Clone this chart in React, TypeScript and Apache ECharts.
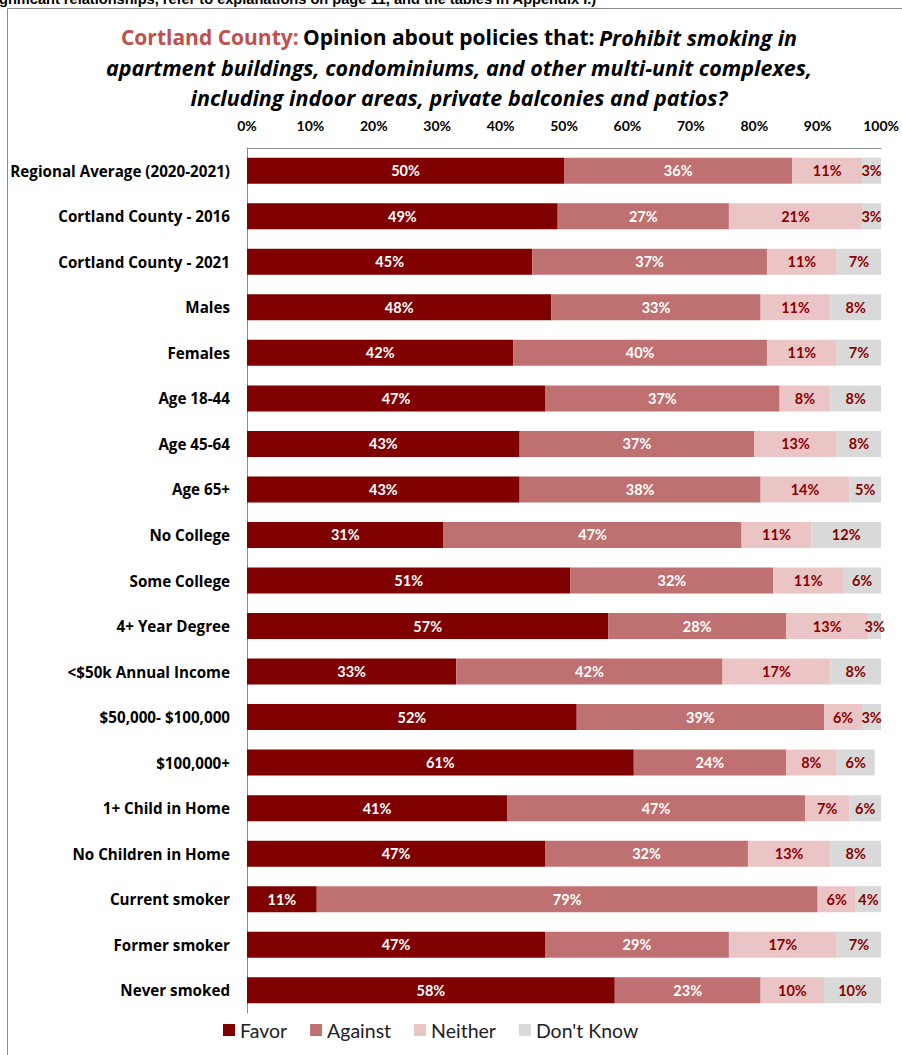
import React, { useEffect, useRef } from "react";
import * as echarts from "echarts";

const categories = [
  "Regional Average (2020-2021)",
  "Cortland County - 2016",
  "Cortland County - 2021",
  "Males",
  "Females",
  "Age 18-44",
  "Age 45-64",
  "Age 65+",
  "No College",
  "Some College",
  "4+ Year Degree",
  "<$50k Annual Income",
  "$50,000- $100,000",
  "$100,000+",
  "1+ Child in Home",
  "No Children in Home",
  "Current smoker",
  "Former smoker",
  "Never smoked",
];

const favor = [50, 49, 45, 48, 42, 47, 43, 43, 31, 51, 57, 33, 52, 61, 41, 47, 11, 47, 58];
const against = [36, 27, 37, 33, 40, 37, 37, 38, 47, 32, 28, 42, 39, 24, 47, 32, 79, 29, 23];
const neither = [11, 21, 11, 11, 11, 8, 13, 14, 11, 11, 13, 17, 6, 8, 7, 13, 6, 17, 10];
const dontKnow = [3, 3, 7, 8, 7, 8, 8, 5, 12, 6, 3, 8, 3, 6, 6, 8, 4, 7, 10];

const seriesNames = ["Favor", "Against", "Neither", "Don't Know"];
const seriesColors = ["#800000", "#BF7070", "#EBC5C5", "#D9D9D9"];
const labelColors = ["#FFFFFF", "#FFFFFF", "#8B0000", "#8B0000"];

const FONT = "Lato, 'Open Sans', sans-serif";
const WIDE = "'Open Sans', Lato, sans-serif";

export default function App() {
  const ref = useRef<HTMLDivElement>(null);
  useEffect(() => {
    if (!ref.current) return;
    const chart = echarts.init(ref.current, undefined, { renderer: "svg" });
    const dataSets = [favor, against, neither, dontKnow];
    chart.setOption({
      animation: false,
      backgroundColor: "#FFFFFF",
      textStyle: { fontFamily: FONT },
      title: {
        left: 454,
        top: 17,
        textAlign: "center",
        text:
          "{r|Cortland County:} {b|Opinion about policies that:} {i|Prohibit smoking in}\n" +
          "{i|apartment buildings, condominiums, and other multi-unit complexes,}\n" +
          "{i|including indoor areas, private balconies and patios?}",
        textStyle: {
          rich: {
            r: { color: "#C0504D", fontSize: 21, fontWeight: "bold", fontFamily: WIDE, lineHeight: 30 },
            b: { color: "#000000", fontSize: 21, fontWeight: "bold", fontFamily: WIDE, lineHeight: 30 },
            i: { color: "#000000", fontSize: 21.5, fontWeight: "bold", fontStyle: "italic", fontFamily: WIDE, lineHeight: 30 },
          },
        },
      },
      graphic: [
        {
          type: "rect",
          shape: { x: 7.5, y: 8.5, width: 1000, height: 1100 },
          style: { fill: "none", stroke: "#8C8C8C", lineWidth: 1 },
          silent: true,
        },
        {
          type: "text",
          left: -1,
          top: -9,
          style: {
            text: "gnificant relationships, refer to explanations on page 11, and the tables in Appendix I.)",
            font: "bold 14.6px 'Liberation Sans', Arial, sans-serif",
            fill: "#000000",
          },
        },
      ],
      legend: {
        bottom: 10,
        left: 218,
        itemWidth: 12,
        itemHeight: 12,
        itemGap: 23,
        icon: "rect",
        data: seriesNames,
        textStyle: { fontSize: 19.5, color: "#222222", fontFamily: FONT },
      },
      grid: { left: 247, right: 19, top: 148, bottom: 42, containLabel: false },
      xAxis: {
        type: "value",
        position: "top",
        min: 0,
        max: 100,
        interval: 10,
        axisLabel: {
          formatter: "{value}%",
          fontSize: 14,
          fontWeight: "bold",
          color: "#000000",
          margin: 16,
          fontFamily: FONT,
        },
        axisLine: { show: true, lineStyle: { color: "#8C8C8C", width: 1 } },
        axisTick: { show: false },
        splitLine: { show: false },
      },
      yAxis: {
        type: "category",
        inverse: true,
        data: categories,
        axisLabel: {
          fontSize: 15.2,
          fontWeight: "bold",
          color: "#000000",
          margin: 17,
          fontFamily: WIDE,
        },
        axisLine: { show: true, lineStyle: { color: "#8C8C8C", width: 1 } },
        axisTick: { show: false },
      },
      series: dataSets.map((d, i) => ({
        name: seriesNames[i],
        type: "bar",
        stack: "total",
        barWidth: 26,
        data: d,
        itemStyle: { color: seriesColors[i] },
        label: {
          show: true,
          position: "inside",
          formatter: "{c}%",
          color: labelColors[i],
          fontSize: 14.5,
          fontWeight: "bold",
          fontFamily: FONT,
        },
      })),
    });
    return () => chart.dispose();
  }, []);
  return (
    <div
      ref={ref}
      style={{ position: "fixed", left: 0, top: 0, width: 902, height: 1055 }}
    />
  );
}
